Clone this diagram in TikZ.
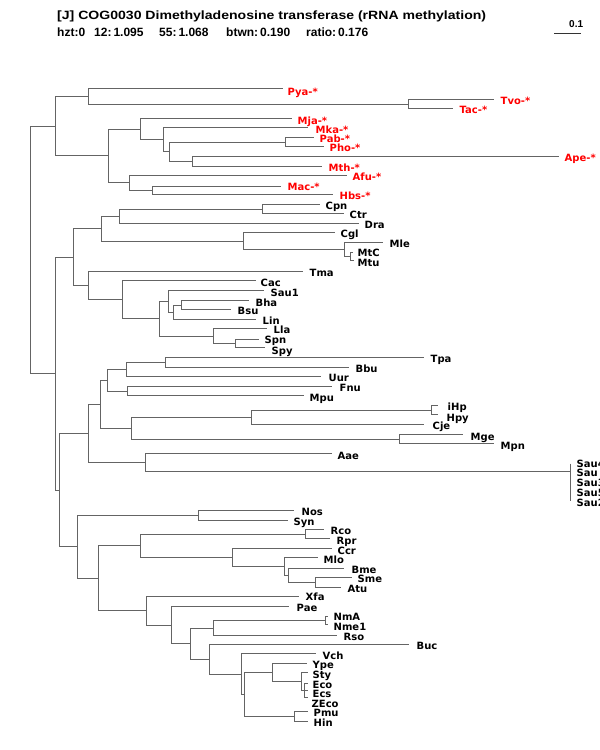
\documentclass[tikz,border=0pt]{standalone}
\usepackage{fontspec}
\usepackage{graphicx}
\newfontfamily\labfont{DejaVu Sans}
\newfontfamily\hdrfont{Liberation Sans}
\definecolor{treegray}{RGB}{100,100,100}
\tikzset{
  br/.style={draw=treegray, line width=1.7pt},
  lab/.style={font=\labfont\bfseries\fontsize{10}{10}\selectfont, inner sep=0pt, anchor=base west, text=black},
  arc/.style={lab, text=red},
  hdr/.style={font=\hdrfont\bfseries\fontsize{12}{12}\selectfont, inner sep=0pt, anchor=base west, text=black},
}
\newcommand\lf[5]{\coordinate (#1) at (#2,#3); \node[lab] (#1t) at (#4,#5+3.1) {#1};}
\newcommand\af[5]{\coordinate (#1) at (#2,#3); \node[arc] (#1t) at (#4,#5+3.1) {#1-*};}
\newcommand\nd[3]{\coordinate (#1) at (#2,#3);}
\begin{document}
\begin{tikzpicture}[x=1pt,y=-1pt]
\clip (0,0) rectangle (600,750);
\fill[white] (0,0) rectangle (600,750);
% header
\node[hdr] (title) at (57,19) {\resizebox{429pt}{\height}{[J] COG0030 Dimethyladenosine transferase (rRNA methylation)}};
\node[hdr] (h1) at (57,36) {hzt:0};
\node[hdr] (h2) at (94,36) {12:\,1.095};
\node[hdr] (h3) at (159,36) {55:\,1.068};
\node[hdr] (h4) at (226,36) {btwn:\,0.190};
\node[hdr] (h5) at (306,36) {ratio:\,0.176};
\coordinate (sb1) at (554,33.5);
\coordinate (sb2) at (581,33.5);
\draw[line width=1.2pt,black!80] (sb1) -- (sb2);
\node[lab,font=\hdrfont\bfseries\fontsize{10}{10}\selectfont] (sbt) at (569,27) {0.1};
\begin{scope}[shift={(0.5,0.5)}]
% archaea leaves
\af{Pya}{282}{88}{287}{92}
\af{Tvo}{493}{99}{500}{101}
\af{Tac}{452}{108}{459}{110}
\af{Mja}{291}{118}{297}{121}
\af{Mka}{307}{127}{315}{130}
\af{Pab}{313}{137}{319}{139}
\af{Pho}{323}{146}{329}{148}
\af{Ape}{558}{156}{564}{158}
\af{Mth}{321}{166}{328}{168}
\af{Afu}{346}{175}{352}{177}
\af{Mac}{280}{186}{287}{187}
\af{Hbs}{332}{194}{339}{196}
% bacteria leaves
\lf{Cpn}{319}{204}{325}{206}
\lf{Ctr}{343}{213}{349}{215}
\lf{Dra}{358}{223}{364}{225}
\lf{Cgl}{334}{232}{340}{234}
\lf{Mle}{382}{242}{389}{244}
\lf{MtC}{352}{252}{357}{253}
\lf{Mtu}{353}{260}{357}{263}
\lf{Tma}{302}{271}{309}{273}
\lf{Cac}{255}{280}{260}{283}
\lf{Sau1}{263}{290}{270}{293}
\lf{Bha}{248}{300}{255}{303}
\lf{Bsu}{230}{309}{237}{311}
\lf{Lin}{255}{319}{262}{321}
\lf{Lla}{266}{328}{273}{330}
\lf{Spn}{258}{339}{264}{340}
\lf{Spy}{264}{347}{271}{351}
\lf{Tpa}{423}{357}{430}{359}
\lf{Bbu}{348}{367}{355}{369}
\lf{Uur}{320}{376}{328}{378}
\lf{Fnu}{331}{386}{339}{388}
\lf{Mpu}{303}{395}{309}{398}
\lf{iHp}{437}{405}{447}{407}
\lf{Hpy}{437}{414}{446}{418}
\lf{Cje}{423}{424}{432}{426}
\lf{Mge}{462}{434}{470}{437}
\lf{Mpn}{493}{443}{500}{446}
\lf{Aae}{331}{453}{337}{456}
\coordinate (Sau4) at (570,463);
\coordinate (Sau2) at (570,500);
\node[lab] (Sau4t) at (576,467.1) {Sau4};
\node[lab] (Saut) at (576,476.1) {Sau};
\node[lab] (Sau3t) at (576,486.1) {Sau3};
\node[lab] (Sau5t) at (576,496.1) {Sau5};
\node[lab] (Sau2t) at (576,506.1) {Sau2};
\lf{Nos}{293}{510}{301}{512}
\lf{Syn}{287}{520}{293}{522}
\lf{Rco}{323}{529}{330}{531}
\lf{Rpr}{329}{538}{336}{541}
\lf{Ccr}{331}{548}{337}{551}
\lf{Mlo}{317}{557}{323}{560}
\lf{Bme}{343}{568}{351}{570}
\lf{Sme}{351}{577}{357}{579}
\lf{Atu}{340}{587}{347}{589}
\lf{Xfa}{298}{596}{305}{597}
\lf{Pae}{288}{606}{296}{608}
\lf{NmA}{327}{616}{333}{617}
\lf{Nme1}{327}{624}{333}{627}
\lf{Rso}{336}{635}{343}{637}
\lf{Buc}{408}{644}{416}{646}
\lf{Vch}{315}{653}{322}{656}
\lf{Ype}{306}{663}{312}{665}
\lf{Sty}{307}{672}{312}{675}
\lf{Eco}{307}{683}{312}{685}
\lf{Ecs}{307}{690}{312}{694}
\lf{ZEco}{307}{697}{311}{704}
\lf{Pmu}{307}{711}{313}{713}
\lf{Hin}{307}{721}{313}{723}
% internal nodes
\nd{A3}{408}{104}
\nd{A1}{88}{96}
\nd{A8}{285}{142}
\nd{A9}{192}{161}
\nd{A7}{169}{151}
\nd{A6}{163}{139}
\nd{A4}{140}{129}
\nd{A10}{152}{190}
\nd{A5}{129}{182}
\nd{A2}{108}{155}
\nd{A0}{55}{126}
\nd{B7}{262}{209}
\nd{B5}{119}{216}
\nd{B9}{350}{256}
\nd{B8}{344}{249}
\nd{B6}{243}{241}
\nd{B3}{101}{228}
\nd{B15}{181}{305}
\nd{B14}{173}{312}
\nd{B12}{168}{301}
\nd{B16}{235}{343}
\nd{B13}{213}{336}
\nd{B11}{159}{318}
\nd{B10}{122}{299}
\nd{B4}{88}{285}
\nd{B1}{73}{257}
\nd{B25}{165}{362}
\nd{B23}{126}{369}
\nd{B24}{127}{391}
\nd{B21}{107}{380}
\nd{B28}{431}{410}
\nd{B26}{251}{417}
\nd{B27}{399}{439}
\nd{B22}{131}{428}
\nd{B19}{100}{404}
\nd{B29}{570}{471}
\nd{B20}{145}{462}
\nd{B17}{88}{433}
\nd{B30}{198}{515}
\nd{B34}{305}{534}
\nd{B38}{315}{582}
\nd{B37}{288}{575}
\nd{B36}{284}{566}
\nd{B35}{232}{557}
\nd{B32}{140}{545}
\nd{B43}{325}{620}
\nd{B41}{213}{628}
\nd{B49}{304}{690}
\nd{B48}{301}{681}
\nd{B46}{272}{672}
\nd{B47}{294}{716}
\nd{B45}{244}{694}
\nd{B44}{241}{674}
\nd{B42}{209}{659}
\nd{B40}{190}{643}
\nd{B39}{171}{625}
\nd{B33}{146}{610}
\nd{B31}{98}{578}
\nd{B18}{77}{546}
\nd{B2}{59}{490}
\nd{B0}{55}{373}
\nd{R}{30}{249}
% branches
\draw[br] (A0) -| (R) |- (B0);
\draw[br] (A1) -| (A0) |- (A2);
\draw[br] (Pya) -| (A1) |- (A3);
\draw[br] (Tvo) -| (A3) |- (Tac);
\draw[br] (A4) -| (A2) |- (A5);
\draw[br] (Mja) -| (A4) |- (A6);
\draw[br] (Mka) -| (A6) |- (A7);
\draw[br] (A8) -| (A7) |- (A9);
\draw[br] (Pab) -| (A8) |- (Pho);
\draw[br] (Ape) -| (A9) |- (Mth);
\draw[br] (Afu) -| (A5) |- (A10);
\draw[br] (Mac) -| (A10) |- (Hbs);
\draw[br] (B1) -| (B0) |- (B2);
\draw[br] (B3) -| (B1) |- (B4);
\draw[br] (B5) -| (B3) |- (B6);
\draw[br] (B7) -| (B5) |- (Dra);
\draw[br] (Cpn) -| (B7) |- (Ctr);
\draw[br] (Cgl) -| (B6) |- (B8);
\draw[br] (Mle) -| (B8) |- (B9);
\draw[br] (MtC) -| (B9) |- (Mtu);
\draw[br] (Tma) -| (B4) |- (B10);
\draw[br] (Cac) -| (B10) |- (B11);
\draw[br] (B12) -| (B11) |- (B13);
\draw[br] (Sau1) -| (B12) |- (B14);
\draw[br] (B15) -| (B14) |- (Lin);
\draw[br] (Bha) -| (B15) |- (Bsu);
\draw[br] (Lla) -| (B13) |- (B16);
\draw[br] (Spn) -| (B16) |- (Spy);
\draw[br] (B17) -| (B2) |- (B18);
\draw[br] (B19) -| (B17) |- (B20);
\draw[br] (B21) -| (B19) |- (B22);
\draw[br] (B23) -| (B21) |- (B24);
\draw[br] (B25) -| (B23) |- (Uur);
\draw[br] (Tpa) -| (B25) |- (Bbu);
\draw[br] (Fnu) -| (B24) |- (Mpu);
\draw[br] (B26) -| (B22) |- (B27);
\draw[br] (B28) -| (B26) |- (Cje);
\draw[br] (iHp) -| (B28) |- (Hpy);
\draw[br] (Mge) -| (B27) |- (Mpn);
\draw[br] (Aae) -| (B20) |- (B29);
\draw[br] (Sau4) -- (Sau2);
\draw[br] (B30) -| (B18) |- (B31);
\draw[br] (Nos) -| (B30) |- (Syn);
\draw[br] (B32) -| (B31) |- (B33);
\draw[br] (B34) -| (B32) |- (B35);
\draw[br] (Rco) -| (B34) |- (Rpr);
\draw[br] (Ccr) -| (B35) |- (B36);
\draw[br] (Mlo) -| (B36) |- (B37);
\draw[br] (Bme) -| (B37) |- (B38);
\draw[br] (Sme) -| (B38) |- (Atu);
\draw[br] (Xfa) -| (B33) |- (B39);
\draw[br] (Pae) -| (B39) |- (B40);
\draw[br] (B41) -| (B40) |- (B42);
\draw[br] (B43) -| (B41) |- (Rso);
\draw[br] (NmA) -| (B43) |- (Nme1);
\draw[br] (Buc) -| (B42) |- (B44);
\draw[br] (Vch) -| (B44) |- (B45);
\draw[br] (B46) -| (B45) |- (B47);
\draw[br] (Ype) -| (B46) |- (B48);
\draw[br] (Sty) -| (B48) |- (B49);
\draw[br] (Eco) -| (B49) |- (ZEco);
\draw[br] (B49) -- (Ecs);
\draw[br] (Pmu) -| (B47) |- (Hin);
\end{scope}
\end{tikzpicture}
\end{document}
